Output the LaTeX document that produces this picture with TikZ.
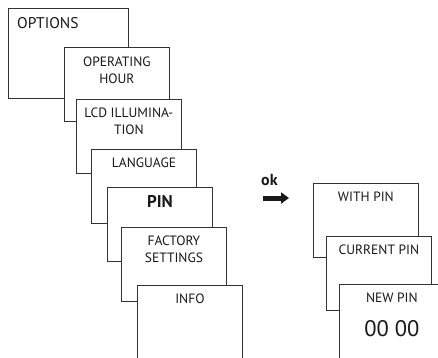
\documentclass[tikz,border=0pt]{standalone}
\usepackage{fontspec}
\setmainfont{PT Sans}
\usetikzlibrary{arrows.meta, positioning}

\tikzset{
  menu/.style = {
    draw = black!80,
    fill = white,
    rectangle,
    anchor = north west,
    line width = 0.8pt,
    minimum width = 105pt,
    minimum height = 74pt,
  },
  caption/.style = {
    anchor = north,
    align = center,
    inner sep = 0pt,
    text = black!90,
    font = \fontsize{13.5}{17}\selectfont,
  },
}

\begin{document}
\begin{tikzpicture}[x = 1pt, y = -1pt]
      \useasboundingbox (0,0) rectangle (438,357);
      \clip (0,0) rectangle (438,357);

      % menu on the left
      \node [menu, minimum width = 120pt, minimum height = 90pt]
        (options) at (8,8) {};
      \node [caption, anchor = north west, font = \fontsize{15.5}{17}\selectfont]
        (options text) at ([xshift = 9pt, yshift = -9pt] options.north west) {OPTIONS};

      \node [menu] (hour) at (64,47) {};
      \node [caption, below = 10pt of hour.north] (hour text) {OPERATING\\HOUR};

      \node [menu] (lcd) at (76,99) {};
      \node [caption, below = 9pt of lcd.north] (lcd text) {LCD ILLUMINA-\\TION};

      \node [menu] (language) at (91,149) {};
      \node [caption, below = 9pt of language.north] (language text) {LANGUAGE};

      \node [menu] (pin) at (107,187) {};
      \node [caption, below = 8pt of pin.north, font = \bfseries\fontsize{17}{17}\selectfont]
        (pin text) {PIN};

      \node [menu] (factory) at (121,227) {};
      \node [caption, below = 9pt of factory.north] (factory text) {FACTORY\\SETTINGS};

      \node [menu] (info) at (137,285) {};
      \node [caption, below = 9pt of info.north] (info text) {INFO};

      % ok key
      \node [caption, anchor = south west, font = \bfseries\fontsize{16}{17}\selectfont]
        (ok) at (261,186) {ok};
      \coordinate (ok start) at (263,198);
      \coordinate (ok end)   at (289,198);
      \draw [-{Triangle[length = 8pt, width = 11pt]}, line width = 5pt, black!90]
        (ok start) -- (ok end);

      % PIN submenu
      \node [menu] (with pin) at (313,183) {};
      \node [caption, below = 9pt of with pin.north] (with pin text) {WITH PIN};

      \node [menu] (current pin) at (326,236) {};
      \node [caption, below = 9pt of current pin.north] (current pin text) {CURRENT PIN};

      \node [menu] (new pin) at (339,284) {};
      \node [caption, below = 9pt of new pin.north] (new pin text) {NEW PIN};
      \node [caption, below = 17pt of new pin text, font = \fontsize{22.5}{24}\selectfont]
        (new pin code) {00 00};
\end{tikzpicture}
\end{document}
